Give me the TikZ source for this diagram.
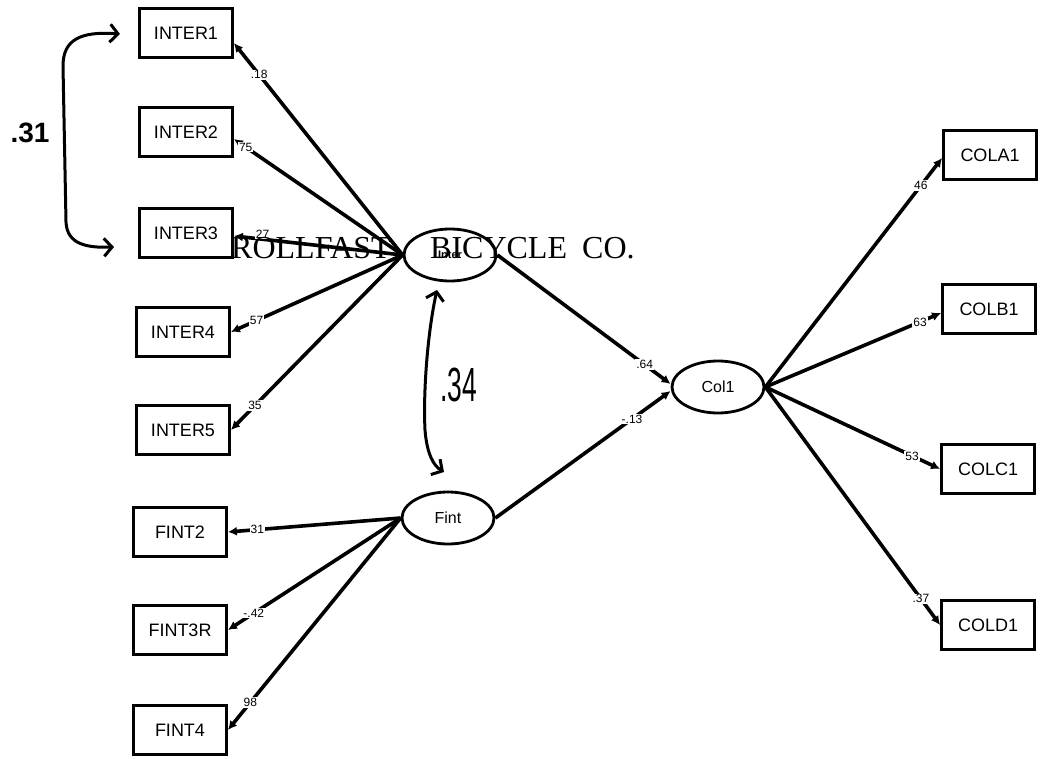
\documentclass[tikz,border=0pt]{standalone}
\usepackage{fontspec}
\setmainfont{Liberation Serif}
\setsansfont{Liberation Sans}
\usetikzlibrary{shapes.geometric,arrows.meta,calc}
\tikzset{
  obsbox/.style={draw,line width=2.8pt,minimum width=93pt,minimum height=49pt,inner sep=0pt,
    font=\sffamily\fontsize{18}{18}\selectfont},
  latent/.style={draw,ellipse,line width=2.8pt,minimum width=92pt,minimum height=52pt,inner sep=0pt,
    font=\sffamily\fontsize{16}{16}\selectfont},
  path/.style={line width=3.6pt,-{Latex[length=9pt,width=9pt]}},
  coef/.style={fill=white,inner sep=1pt,font=\sffamily\fontsize{12}{12}\selectfont},
  hand/.style={line width=3pt,line cap=round,{Straight Barb[length=8pt,width=18pt,line width=3pt]}-{Straight Barb[length=8pt,width=18pt,line width=3pt]}},
  handtext/.style={font=\sffamily\bfseries\fontsize{28}{28}\selectfont,inner sep=0pt},
  banner/.style={anchor=base west,inner sep=0pt,font=\fontsize{32}{32}\selectfont}
}
\begin{document}
\begin{tikzpicture}[x=1pt,y=-1pt]
\useasboundingbox (0,0) rectangle (1040,759);

% indicator boxes
\node[obsbox] (i1) at (186,33) {INTER1};
\node[obsbox] (i2) at (186,132) {INTER2};
\node[obsbox] (i3) at (186,233) {INTER3};
\node[obsbox] (i4) at (183,332) {INTER4};
\node[obsbox] (i5) at (183,430) {INTER5};
\node[obsbox] (f2) at (180,532) {FINT2};
\node[obsbox] (f3) at (180,630) {FINT3R};
\node[obsbox] (f4) at (180,730) {FINT4};
\node[obsbox] (ca) at (990,155) {COLA1};
\node[obsbox] (cb) at (989,309) {COLB1};
\node[obsbox] (cc) at (988,469) {COLC1};
\node[obsbox] (cd) at (988,625) {COLD1};

% latent variables
\node[latent,font=\sffamily\bfseries\fontsize{11}{11}\selectfont] (inter) at (450,255) {Inter};
\node[latent] (fint) at (448,518) {Fint};
\node[latent] (col) at (718,387) {Col1};

% loadings of Inter
\draw[path] (inter.west) -- node[coef,pos=0.85] {.18} ($(i1.east)+(0,10)$);
\draw[path] (inter.west) -- node[coef,pos=0.93] {75} ($(i2.east)+(0,7)$);
\draw[path] (inter.west) -- node[coef,pos=0.83,yshift=5pt] {27} ($(i3.east)+(0,3)$);
\draw[path] (inter.west) -- node[coef,pos=0.85] {57} (i4.east);
\draw[path] (inter.west) -- node[coef,pos=0.86] {35} (i5.east);

% loadings of Fint
\draw[path] (fint.west) -- node[coef,pos=0.83] {31} (f2.east);
\draw[path] (fint.west) -- node[coef,pos=0.85] {-.42} (f3.east);
\draw[path] (fint.west) -- node[coef,pos=0.87] {98} (f4.east);

% structural paths
\draw[path] (inter.east) -- node[coef,pos=0.85] {.64} ($(col.west)+(0,-3)$);
\draw[path] (fint.east) -- node[coef,pos=0.78] {-.13} ($(col.west)+(0,4)$);

% loadings of Col1
\draw[path] (col.east) -- node[coef,pos=0.88] {46} ($(ca.west)+(0,3)$);
\draw[path] (col.east) -- node[coef,pos=0.88] {63} ($(cb.west)+(0,4)$);
\draw[path] (col.east) -- node[coef,pos=0.84] {53} (cc.west);
\draw[path] (col.east) -- node[coef,pos=0.89] {.37} (cd.west);

% overprinted heading
\node[banner] (t1) at (231,258) {ROLLFAST};
\node[banner] (t2) at (430,258) {BICYCLE};
\node[banner] (t3) at (582,258) {CO.};

% handwritten correlations
\coordinate (h1a) at (120,34);
\coordinate (h1b) at (114,247);
\draw[hand] (h1a) .. controls (80,31) and (63,40) .. (63,66)
  -- (66,222) .. controls (67,244) and (86,248) .. (h1b);
\node[handtext] (r31) at (30,133) {.31};

\coordinate (h2a) at (437,290);
\coordinate (h2b) at (444,472);
\draw[hand] (h2a) .. controls (428,330) and (423,390) .. (425,430)
  .. controls (427,455) and (434,466) .. (h2b);
\node[handtext,font=\sffamily\fontsize{48}{48}\selectfont,xscale=0.55] (r34) at (459,385) {.34};
\end{tikzpicture}
\end{document}
